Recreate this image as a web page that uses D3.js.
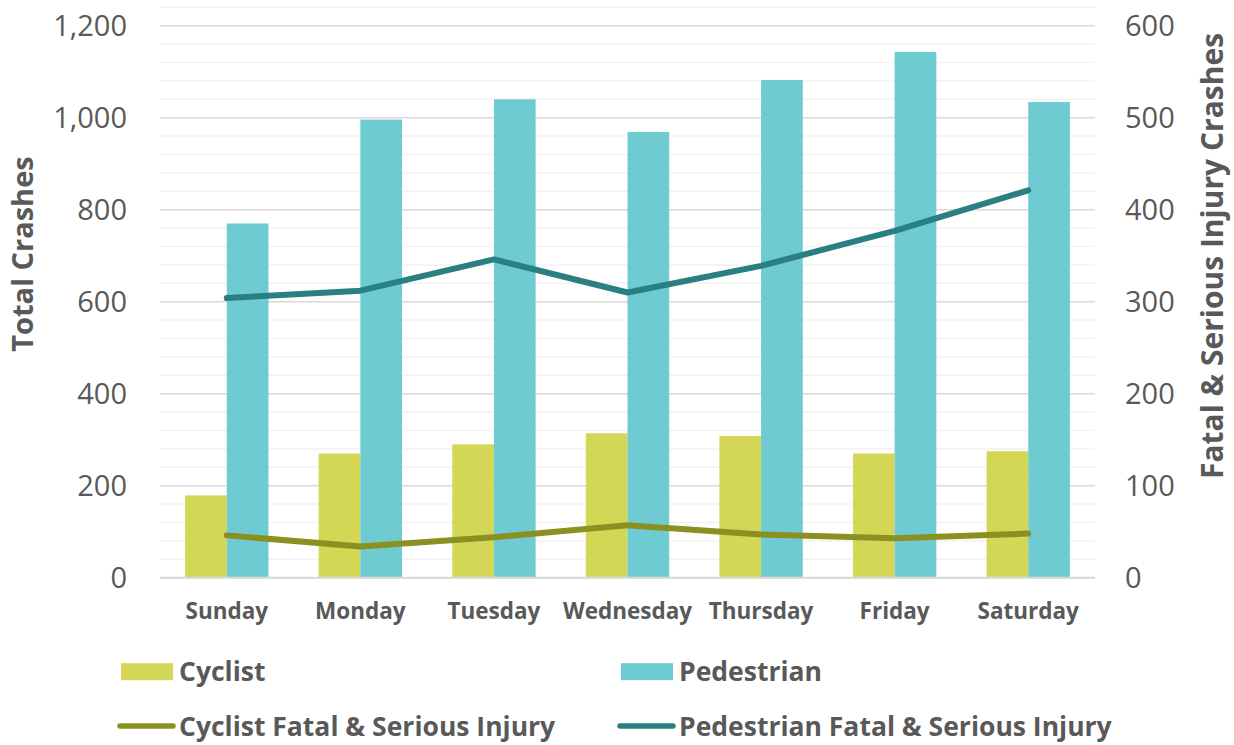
<!DOCTYPE html>
<html>
<head>
<meta charset="utf-8">
<script src="https://cdn.jsdelivr.net/npm/d3@7"></script>
<style>
  html, body { margin: 0; padding: 0; background: #fff; }
  svg { display: block; font-family: "Open Sans", "Noto Sans", sans-serif; }
</style>
</head>
<body>
<svg id="chart" width="1234" height="745"></svg>
<script>
const days = ["Sunday", "Monday", "Tuesday", "Wednesday", "Thursday", "Friday", "Saturday"];
const cyclistTotal = [179, 270, 290, 314, 308, 270, 275];
const pedestrianTotal = [770, 996, 1040, 969, 1082, 1143, 1034];
const cyclistKSI = [46, 34, 44, 57, 47, 43, 48];
const pedestrianKSI = [304, 312, 346, 310, 339, 377, 421];
const leftTicks = [0, 200, 400, 600, 800, 1000, 1200];
const rightTicks = [0, 100, 200, 300, 400, 500, 600];

const colors = {
  cyclistBar: "#D3D755",
  pedBar: "#6ECBD2",
  cyclistLine: "#8A9120",
  pedLine: "#2A7F83",
  text: "#595959",
  major: "#D9D9D9",
  minor: "#F2F2F2"
};

const svg = d3.select("#chart");
const plotLeft = 160, plotRight = 1095, plotTop = 25.7, plotBottom = 577.7;

const x = d3.scaleBand().domain(days).range([plotLeft, plotRight]).paddingInner(0.376).paddingOuter(0.188);
const xSub = d3.scaleBand().domain(["c", "p"]).range([0, x.bandwidth()]);
const yL = d3.scaleLinear().domain([0, 1200]).range([plotBottom, plotTop]);
const yR = d3.scaleLinear().domain([0, 600]).range([plotBottom, plotTop]);

// minor gridlines (every 40 on left axis)
const minor = d3.range(40, 1241, 40).filter(v => v % 200 !== 0);
svg.append("g").selectAll("line").data(minor).join("line")
  .attr("x1", plotLeft).attr("x2", plotRight)
  .attr("y1", d => yL(d)).attr("y2", d => yL(d))
  .attr("stroke", colors.minor).attr("stroke-width", 1.5);

// major gridlines
svg.append("g").selectAll("line").data(leftTicks).join("line")
  .attr("x1", plotLeft).attr("x2", plotRight)
  .attr("y1", d => yL(d)).attr("y2", d => yL(d))
  .attr("stroke", colors.major).attr("stroke-width", 1.5);

// bars
const g = svg.append("g");
g.selectAll("rect.c").data(days).join("rect").attr("class", "c")
  .attr("x", d => x(d) + xSub("c"))
  .attr("width", xSub.bandwidth())
  .attr("y", (d, i) => yL(cyclistTotal[i]))
  .attr("height", (d, i) => yL(0) - yL(cyclistTotal[i]))
  .attr("fill", colors.cyclistBar);
g.selectAll("rect.p").data(days).join("rect").attr("class", "p")
  .attr("x", d => x(d) + xSub("p"))
  .attr("width", xSub.bandwidth())
  .attr("y", (d, i) => yL(pedestrianTotal[i]))
  .attr("height", (d, i) => yL(0) - yL(pedestrianTotal[i]))
  .attr("fill", colors.pedBar);

// baseline
svg.append("line").attr("x1", plotLeft).attr("x2", plotRight)
  .attr("y1", yL(0)).attr("y2", yL(0))
  .attr("stroke", colors.major).attr("stroke-width", 2);

// lines
const line = d3.line().x((d, i) => x(days[i]) + x.bandwidth() / 2).y(d => yR(d));
svg.append("path").datum(pedestrianKSI).attr("d", line)
  .attr("fill", "none").attr("stroke", colors.pedLine).attr("stroke-width", 6)
  .attr("stroke-linecap", "round").attr("stroke-linejoin", "round");
svg.append("path").datum(cyclistKSI).attr("d", line)
  .attr("fill", "none").attr("stroke", colors.cyclistLine).attr("stroke-width", 6)
  .attr("stroke-linecap", "round").attr("stroke-linejoin", "round");

// axes
const axL = svg.append("g").attr("transform", `translate(${plotLeft},0)`)
  .call(d3.axisLeft(yL).tickValues(leftTicks).tickFormat(d3.format(",")).tickSize(0).tickPadding(33));
const axR = svg.append("g").attr("transform", `translate(${plotRight},0)`)
  .call(d3.axisRight(yR).tickValues(rightTicks).tickFormat(d3.format(",")).tickSize(0).tickPadding(30));
[axL, axR].forEach(a => {
  a.select(".domain").remove();
  a.selectAll("text").attr("fill", colors.text).style("font-size", "29px")
    .style("font-family", '"Open Sans", sans-serif').attr("dy", "0.34em");
});

const axX = svg.append("g").attr("transform", `translate(0,${plotBottom})`)
  .call(d3.axisBottom(x).tickSize(0).tickPadding(25));
axX.select(".domain").remove();
axX.selectAll("text").attr("fill", colors.text).style("font-size", "22.5px")
  .style("font-weight", "bold").style("font-family", '"Open Sans", sans-serif');

// axis titles
svg.append("text").attr("transform", "translate(33,254) rotate(-90)")
  .attr("text-anchor", "middle").attr("fill", colors.text)
  .style("font-size", "29px").style("font-weight", "bold").text("Total Crashes");
svg.append("text").attr("transform", "translate(1223,256) rotate(-90)")
  .attr("text-anchor", "middle").attr("fill", colors.text)
  .style("font-size", "30px").style("font-weight", "bold").text("Fatal & Serious Injury Crashes");

// legend
const legendItems = [
  { label: "Cyclist", type: "rect", color: colors.cyclistBar, x: 121, y: 671.7 },
  { label: "Pedestrian", type: "rect", color: colors.pedBar, x: 621, y: 671.7 },
  { label: "Cyclist Fatal & Serious Injury", type: "line", color: colors.cyclistLine, x: 121, y: 726 },
  { label: "Pedestrian Fatal & Serious Injury", type: "line", color: colors.pedLine, x: 621, y: 726 }
];
const lg = svg.append("g").selectAll("g").data(legendItems).join("g")
  .attr("transform", d => `translate(${d.x},${d.y})`);
lg.filter(d => d.type === "rect").append("rect")
  .attr("x", 0).attr("y", -8.5).attr("width", 52).attr("height", 17).attr("fill", d => d.color);
lg.filter(d => d.type === "line").append("line")
  .attr("x1", -1).attr("x2", 52).attr("y1", 0).attr("y2", 0)
  .attr("stroke", d => d.color).attr("stroke-width", 5.5).attr("stroke-linecap", "round");
lg.append("text").attr("x", 58).attr("dy", "0.36em").attr("fill", colors.text)
  .style("font-size", "26.5px").style("font-weight", "bold").text(d => d.label);
</script>
</body>
</html>
